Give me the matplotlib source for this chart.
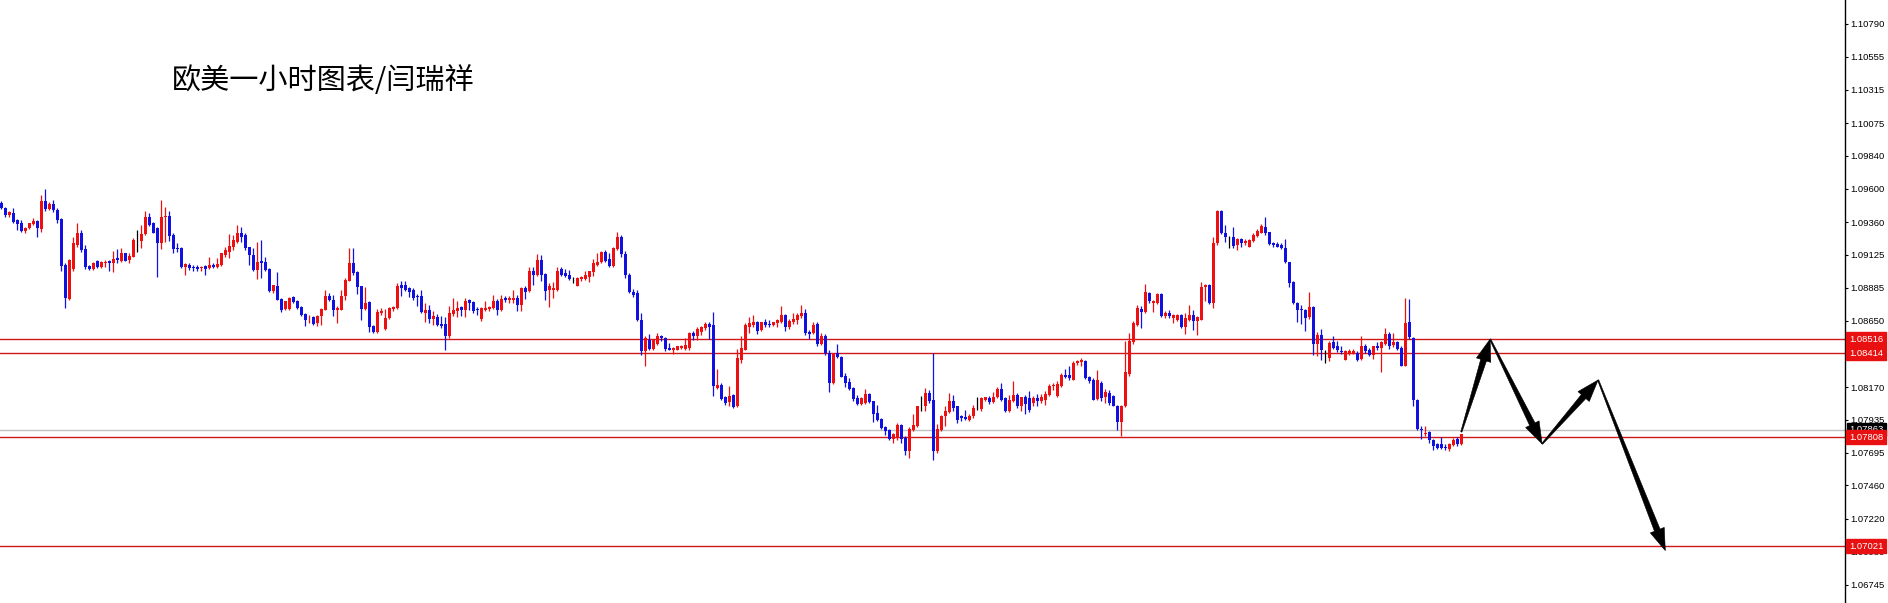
import numpy as np
import matplotlib
matplotlib.use("Agg")
import matplotlib.pyplot as plt
from matplotlib.patches import Polygon
import matplotlib.transforms as mtransforms

plt.rcParams['font.family'] = ['Noto Sans CJK SC', 'DejaVu Sans']

# EURUSD H1 candles
opens = [
    1.09496,1.09460,1.09414,1.09424,1.09376,1.09357,1.09299,1.09316,1.09347,1.09371,
    1.09311,1.09515,1.09453,1.09491,1.09448,1.09381,1.09052,1.08805,1.09021,1.09196,
    1.09285,1.09167,1.09045,1.09021,1.09081,1.09035,1.09064,1.09078,1.09064,1.09098,
    1.09083,1.09136,1.09088,1.09112,1.09232,1.09227,1.09275,1.09395,1.09352,1.09316,
    1.09213,1.09395,1.09405,1.09268,1.09172,1.09172,1.09035,1.09054,1.09035,1.09040,
    1.09026,1.09045,1.09028,1.09052,1.09035,1.09052,1.09124,1.09148,1.09184,1.09220,
    1.09280,1.09268,1.09179,1.09124,1.09016,1.09081,1.09069,1.09023,1.08860,1.08901,
    1.08805,1.08733,1.08733,1.08819,1.08793,1.08747,1.08699,1.08651,1.08675,1.08632,
    1.08685,1.08728,1.08829,1.08800,1.08728,1.08728,1.08824,1.08939,1.09064,1.08997,
    1.08896,1.08733,1.08781,1.08608,1.08565,1.08704,1.08589,1.08668,1.08735,1.08740,
    1.08908,1.08908,1.08884,1.08872,1.08829,1.08829,1.08704,1.08728,1.08663,1.08675,
    1.08627,1.08627,1.08541,1.08699,1.08716,1.08747,1.08723,1.08795,1.08781,1.08733,
    1.08661,1.08728,1.08733,1.08740,1.08793,1.08723,1.08810,1.08795,1.08800,1.08810,
    1.08764,1.08884,1.08860,1.09011,1.08980,1.09088,1.08985,1.08867,1.08867,1.08867,
    1.09021,1.08992,1.08980,1.08954,1.08901,1.08949,1.08949,1.08963,1.08997,1.09052,
    1.09069,1.09148,1.09093,1.09045,1.09165,1.09256,1.09130,1.08980,1.08859,1.08847,
    1.08655,1.08427,1.08511,1.08444,1.08482,1.08535,1.08523,1.08451,1.08434,1.08439,
    1.08451,1.08444,1.08451,1.08559,1.08535,1.08571,1.08595,1.08626,1.08619,1.08163,
    1.08187,1.08098,1.08060,1.08115,1.08031,1.08367,1.08439,1.08607,1.08619,1.08643,
    1.08583,1.08638,1.08626,1.08619,1.08631,1.08643,1.08691,1.08602,1.08636,1.08655,
    1.08684,1.08708,1.08564,1.08559,1.08626,1.08482,1.08535,1.08414,1.08198,1.08414,
    1.08390,1.08251,1.08210,1.08162,1.08090,1.08049,1.08054,1.08121,1.08066,1.07982,
    1.07939,1.07881,1.07857,1.07795,1.07802,1.07898,1.07802,1.07706,1.07857,1.07891,
    1.08030,1.08030,1.08126,1.08078,1.07706,1.07862,1.07958,1.07987,1.08073,1.08030,
    1.07958,1.07953,1.07934,1.07958,1.08018,1.08011,1.08078,1.08090,1.08059,1.08097,
    1.08155,1.08090,1.07994,1.08066,1.08114,1.08035,1.08097,1.08092,1.08056,1.08092,
    1.08068,1.08080,1.08116,1.08176,1.08104,1.08176,1.08260,1.08260,1.08224,1.08344,
    1.08349,1.08356,1.08243,1.08224,1.08085,1.08200,1.08099,1.08128,1.08104,1.08037,
    1.07917,1.08032,1.08267,1.08493,1.08620,1.08733,1.08709,1.08848,1.08776,1.08776,
    1.08843,1.08680,1.08704,1.08668,1.08656,1.08692,1.08603,1.08656,1.08692,1.08644,
    1.08656,1.08891,1.08908,1.08776,1.09208,1.09443,1.09285,1.09251,1.09256,1.09196,
    1.09237,1.09208,1.09184,1.09227,1.09261,1.09285,1.09328,1.09287,1.09213,1.09203,
    1.09196,1.09172,1.09069,1.08925,1.08776,1.08733,1.08728,1.08675,1.08747,1.08483,
    1.08548,1.08392,1.08380,1.08493,1.08464,1.08428,1.08368,1.08411,1.08416,1.08416,
    1.08373,1.08464,1.08440,1.08404,1.08464,1.08452,1.08483,1.08555,1.08476,1.08493,
    1.08452,1.08325,1.08637,1.08524,1.08080,1.07869,1.07835,1.07845,1.07787,1.07756,
    1.07756,1.07739,1.07720,1.07749,1.07792,1.07756,
]
highs = [
    1.09515,1.09467,1.09443,1.09460,1.09381,1.09376,1.09328,1.09357,1.09388,1.09376,
    1.09556,1.09597,1.09508,1.09520,1.09460,1.09388,1.09064,1.09093,1.09251,1.09352,
    1.09304,1.09196,1.09052,1.09069,1.09088,1.09078,1.09088,1.09088,1.09150,1.09165,
    1.09172,1.09141,1.09136,1.09244,1.09304,1.09340,1.09443,1.09424,1.09364,1.09328,
    1.09520,1.09472,1.09443,1.09280,1.09208,1.09184,1.09064,1.09064,1.09052,1.09052,
    1.09045,1.09052,1.09112,1.09064,1.09100,1.09141,1.09184,1.09275,1.09268,1.09340,
    1.09328,1.09280,1.09184,1.09172,1.09220,1.09232,1.09107,1.09028,1.08908,1.08997,
    1.08812,1.08793,1.08819,1.08829,1.08800,1.08752,1.08704,1.08692,1.08680,1.08690,
    1.08740,1.08872,1.08848,1.08836,1.08752,1.08872,1.08956,1.09172,1.09172,1.09004,
    1.08901,1.08891,1.08788,1.08620,1.08733,1.08740,1.08735,1.08747,1.08752,1.08920,
    1.08932,1.08937,1.08891,1.08884,1.08843,1.08872,1.08776,1.08764,1.08716,1.08699,
    1.08680,1.08675,1.08757,1.08812,1.08788,1.08757,1.08812,1.08805,1.08788,1.08747,
    1.08747,1.08788,1.08757,1.08836,1.08805,1.08836,1.08829,1.08824,1.08872,1.08836,
    1.08891,1.08901,1.09040,1.09040,1.09131,1.09124,1.08992,1.08920,1.08925,1.09040,
    1.09033,1.09021,1.09016,1.08963,1.08963,1.08973,1.09004,1.09011,1.09093,1.09136,
    1.09155,1.09160,1.09136,1.09184,1.09292,1.09270,1.09150,1.08990,1.08880,1.08871,
    1.08703,1.08535,1.08554,1.08516,1.08559,1.08547,1.08528,1.08487,1.08458,1.08468,
    1.08475,1.08523,1.08564,1.08578,1.08607,1.08612,1.08636,1.08643,1.08715,1.08300,
    1.08199,1.08108,1.08175,1.08122,1.08444,1.08535,1.08631,1.08679,1.08691,1.08648,
    1.08643,1.08660,1.08655,1.08643,1.08660,1.08756,1.08698,1.08660,1.08708,1.08703,
    1.08763,1.08732,1.08583,1.08636,1.08636,1.08559,1.08550,1.08438,1.08419,1.08481,
    1.08395,1.08270,1.08234,1.08174,1.08114,1.08102,1.08155,1.08126,1.08073,1.08042,
    1.07946,1.07891,1.07867,1.07838,1.07910,1.07905,1.07814,1.07881,1.07977,1.08035,
    1.08107,1.08162,1.08150,1.08414,1.07905,1.07970,1.08030,1.08126,1.08114,1.08035,
    1.07970,1.08006,1.07977,1.08042,1.08097,1.08097,1.08102,1.08107,1.08138,1.08174,
    1.08203,1.08102,1.08114,1.08217,1.08126,1.08102,1.08114,1.08140,1.08109,1.08123,
    1.08123,1.08140,1.08195,1.08200,1.08212,1.08272,1.08301,1.08320,1.08356,1.08363,
    1.08380,1.08363,1.08253,1.08236,1.08296,1.08212,1.08157,1.08152,1.08116,1.08044,
    1.08044,1.08500,1.08560,1.08644,1.08764,1.08752,1.08915,1.08853,1.08800,1.08848,
    1.08848,1.08716,1.08723,1.08699,1.08699,1.08699,1.08704,1.08764,1.08728,1.08685,
    1.08925,1.08913,1.08915,1.09251,1.09448,1.09448,1.09340,1.09261,1.09328,1.09244,
    1.09244,1.09237,1.09237,1.09280,1.09309,1.09347,1.09395,1.09292,1.09220,1.09220,
    1.09213,1.09237,1.09076,1.08932,1.08781,1.08764,1.08733,1.08853,1.08752,1.08565,
    1.08589,1.08435,1.08500,1.08541,1.08500,1.08464,1.08440,1.08445,1.08445,1.08428,
    1.08541,1.08483,1.08452,1.08469,1.08493,1.08500,1.08596,1.08565,1.08560,1.08500,
    1.08464,1.08812,1.08805,1.08531,1.08085,1.07888,1.07888,1.07852,1.07797,1.07768,
    1.07811,1.07756,1.07763,1.07804,1.07811,1.07828,
]
lows = [
    1.09453,1.09395,1.09400,1.09357,1.09304,1.09292,1.09285,1.09309,1.09340,1.09256,
    1.09287,1.09443,1.09448,1.09436,1.09357,1.09011,1.08740,1.08795,1.09011,1.09184,
    1.09148,1.09021,1.09016,1.09016,1.09028,1.09030,1.09035,1.09004,1.09002,1.09064,
    1.09069,1.09078,1.09064,1.09107,1.09148,1.09172,1.09268,1.09333,1.09280,1.08963,
    1.09165,1.09220,1.09227,1.09141,1.09148,1.09028,1.08980,1.09016,1.09011,1.09011,
    1.09011,1.08980,1.09021,1.09028,1.09028,1.09047,1.09112,1.09100,1.09160,1.09213,
    1.09220,1.09160,1.09052,1.09011,1.08951,1.08956,1.09004,1.08853,1.08848,1.08795,
    1.08709,1.08728,1.08723,1.08776,1.08733,1.08680,1.08608,1.08632,1.08620,1.08613,
    1.08620,1.08723,1.08788,1.08685,1.08632,1.08723,1.08800,1.08932,1.08980,1.08843,
    1.08656,1.08728,1.08565,1.08560,1.08560,1.08692,1.08584,1.08661,1.08721,1.08733,
    1.08824,1.08860,1.08819,1.08800,1.08752,1.08704,1.08637,1.08632,1.08620,1.08613,
    1.08596,1.08440,1.08524,1.08680,1.08675,1.08680,1.08675,1.08728,1.08704,1.08692,
    1.08644,1.08716,1.08716,1.08733,1.08692,1.08716,1.08781,1.08776,1.08776,1.08716,
    1.08716,1.08805,1.08853,1.08908,1.08973,1.08932,1.08800,1.08747,1.08812,1.08860,
    1.08973,1.08963,1.08944,1.08920,1.08896,1.08939,1.08944,1.08925,1.08973,1.09045,
    1.09064,1.09076,1.09040,1.09040,1.09160,1.09110,1.08960,1.08850,1.08820,1.08650,
    1.08403,1.08319,1.08439,1.08439,1.08475,1.08499,1.08427,1.08434,1.08410,1.08434,
    1.08444,1.08439,1.08434,1.08511,1.08511,1.08547,1.08583,1.08516,1.08108,1.08156,
    1.08079,1.08043,1.08036,1.08019,1.08026,1.08343,1.08434,1.08559,1.08607,1.08554,
    1.08578,1.08607,1.08607,1.08612,1.08602,1.08631,1.08578,1.08588,1.08626,1.08626,
    1.08667,1.08547,1.08516,1.08554,1.08468,1.08475,1.08405,1.08131,1.08193,1.08378,
    1.08241,1.08174,1.08150,1.08073,1.08042,1.08042,1.08049,1.08054,1.07915,1.07922,
    1.07867,1.07826,1.07790,1.07766,1.07790,1.07766,1.07682,1.07658,1.07850,1.07881,
    1.07994,1.07994,1.08054,1.07646,1.07694,1.07850,1.07886,1.07982,1.07994,1.07910,
    1.07922,1.07934,1.07922,1.07946,1.08006,1.08001,1.08066,1.08049,1.08054,1.08090,
    1.08066,1.07987,1.07987,1.08059,1.08018,1.07994,1.07977,1.07989,1.08037,1.08037,
    1.08056,1.08044,1.08109,1.08152,1.08099,1.08171,1.08236,1.08224,1.08219,1.08332,
    1.08325,1.08229,1.08200,1.08075,1.08075,1.08068,1.08056,1.08044,1.08032,1.07859,
    1.07816,1.08027,1.08253,1.08483,1.08613,1.08596,1.08704,1.08776,1.08709,1.08771,
    1.08675,1.08668,1.08668,1.08632,1.08644,1.08596,1.08555,1.08644,1.08579,1.08548,
    1.08651,1.08788,1.08771,1.08740,1.09196,1.09275,1.09220,1.09172,1.09172,1.09160,
    1.09184,1.09196,1.09179,1.09220,1.09251,1.09280,1.09268,1.09196,1.09184,1.09179,
    1.09165,1.09064,1.08891,1.08771,1.08637,1.08627,1.08572,1.08661,1.08404,1.08397,
    1.08368,1.08344,1.08356,1.08445,1.08421,1.08411,1.08363,1.08404,1.08411,1.08356,
    1.08368,1.08416,1.08392,1.08373,1.08440,1.08277,1.08476,1.08445,1.08459,1.08435,
    1.08320,1.08320,1.08517,1.08032,1.07859,1.07797,1.07816,1.07768,1.07715,1.07720,
    1.07725,1.07715,1.07708,1.07744,1.07744,1.07749,
]
closes = [
    1.09460,1.09412,1.09431,1.09364,1.09347,1.09299,1.09321,1.09352,1.09366,1.09316,
    1.09515,1.09453,1.09491,1.09448,1.09376,1.09045,1.08812,1.09088,1.09208,1.09280,
    1.09160,1.09040,1.09021,1.09064,1.09035,1.09074,1.09074,1.09064,1.09093,1.09088,
    1.09141,1.09083,1.09117,1.09232,1.09232,1.09275,1.09400,1.09340,1.09285,1.09213,
    1.09400,1.09405,1.09261,1.09167,1.09165,1.09035,1.09057,1.09028,1.09026,1.09021,
    1.09035,1.09021,1.09052,1.09040,1.09059,1.09136,1.09160,1.09189,1.09232,1.09280,
    1.09256,1.09172,1.09124,1.09016,1.09076,1.09064,1.09016,1.08860,1.08903,1.08800,
    1.08728,1.08788,1.08812,1.08781,1.08740,1.08692,1.08651,1.08656,1.08627,1.08685,
    1.08733,1.08829,1.08795,1.08723,1.08738,1.08829,1.08944,1.09064,1.08992,1.08891,
    1.08733,1.08776,1.08601,1.08565,1.08711,1.08716,1.08668,1.08740,1.08745,1.08896,
    1.08884,1.08872,1.08853,1.08812,1.08819,1.08709,1.08728,1.08661,1.08685,1.08620,
    1.08613,1.08541,1.08704,1.08723,1.08740,1.08723,1.08793,1.08776,1.08716,1.08723,
    1.08738,1.08740,1.08747,1.08793,1.08723,1.08805,1.08795,1.08810,1.08810,1.08764,
    1.08884,1.08853,1.09011,1.08980,1.09088,1.08980,1.08860,1.08896,1.08884,1.09011,
    1.08980,1.08973,1.08949,1.08954,1.08956,1.08963,1.08980,1.09004,1.09064,1.09076,
    1.09148,1.09083,1.09045,1.09172,1.09256,1.09130,1.08980,1.08859,1.08835,1.08655,
    1.08427,1.08523,1.08444,1.08511,1.08535,1.08523,1.08444,1.08439,1.08449,1.08463,
    1.08468,1.08475,1.08559,1.08535,1.08588,1.08607,1.08626,1.08607,1.08175,1.08187,
    1.08084,1.08055,1.08108,1.08026,1.08379,1.08451,1.08619,1.08631,1.08643,1.08578,
    1.08636,1.08619,1.08617,1.08638,1.08655,1.08691,1.08602,1.08650,1.08660,1.08691,
    1.08708,1.08559,1.08554,1.08619,1.08482,1.08540,1.08414,1.08203,1.08414,1.08385,
    1.08246,1.08203,1.08155,1.08083,1.08049,1.08090,1.08121,1.08059,1.07977,1.07934,
    1.07874,1.07850,1.07795,1.07831,1.07898,1.07795,1.07706,1.07867,1.07898,1.08030,
    1.08030,1.08126,1.08066,1.07706,1.07867,1.07963,1.07994,1.08066,1.08018,1.07934,
    1.07946,1.07939,1.07963,1.08018,1.08018,1.08090,1.08097,1.08059,1.08102,1.08155,
    1.08078,1.07994,1.08078,1.08114,1.08030,1.08097,1.08049,1.08008,1.08092,1.08068,
    1.08099,1.08123,1.08181,1.08188,1.08195,1.08260,1.08243,1.08236,1.08344,1.08356,
    1.08363,1.08236,1.08212,1.08080,1.08224,1.08092,1.08133,1.08056,1.08037,1.07917,
    1.08037,1.08277,1.08500,1.08632,1.08740,1.08709,1.08853,1.08788,1.08788,1.08843,
    1.08680,1.08704,1.08680,1.08692,1.08692,1.08603,1.08668,1.08692,1.08644,1.08675,
    1.08891,1.08908,1.08776,1.09213,1.09443,1.09285,1.09251,1.09251,1.09189,1.09237,
    1.09213,1.09227,1.09232,1.09268,1.09299,1.09333,1.09280,1.09203,1.09196,1.09184,
    1.09172,1.09069,1.08920,1.08776,1.08728,1.08723,1.08668,1.08747,1.08483,1.08548,
    1.08440,1.08392,1.08488,1.08452,1.08435,1.08421,1.08428,1.08428,1.08428,1.08368,
    1.08464,1.08428,1.08404,1.08464,1.08452,1.08493,1.08555,1.08464,1.08493,1.08445,
    1.08325,1.08632,1.08531,1.08080,1.07864,1.07859,1.07840,1.07787,1.07744,1.07732,
    1.07732,1.07732,1.07756,1.07787,1.07756,1.07830,
]

# horizontal levels
red_levels = [1.08516, 1.08414, 1.07808, 1.07021]
bid_price = 1.07863
axis_ticks = [1.10790, 1.10555, 1.10315, 1.10075, 1.09840, 1.09600, 1.09360,
              1.09125, 1.08885, 1.08650, 1.08410, 1.08170, 1.07935, 1.07695,
              1.07460, 1.07220, 1.06980, 1.06745]

# projected path (bar index, price)
path_x = [365, 372.2, 385.2, 399.2, 416.0]
path_y = [1.07846, 1.08516, 1.07760, 1.08221, 1.06990]

title = "欧美一小时图表/闫瑞祥"

W, H = 1888, 603
fig = plt.figure(figsize=(W / 100, H / 100), dpi=100)
ax = fig.add_axes([0, 0, 1845 / W, 1])
ax.set_xlim(-0.33, 460.92)
ax.set_ylim(1.06612, 1.10963)

o = np.array(opens); h = np.array(highs); l = np.array(lows); c = np.array(closes)
x = np.arange(len(o))
col = np.where(c > o, '#ee1010', np.where(c < o, '#1010e0', 'black'))

ax.vlines(x, l, h, colors=col, linewidth=0.9, zorder=3)
bot = np.minimum(o, c)
hgt = np.maximum(np.abs(c - o), 0.00002)
ax.bar(x, hgt, bottom=bot, width=0.72, color=col, linewidth=0, zorder=3)

for lv in red_levels:
    ax.axhline(lv, color='#d01818', lw=1.0, zorder=2)
ax.axhline(bid_price, color='#c0c0c0', lw=1.0, zorder=1)

# axis on the right, MT4 style
for s in ['top', 'left', 'bottom']:
    ax.spines[s].set_visible(False)
ax.spines['right'].set_linewidth(1.0)
ax.set_xticks([])
ax.yaxis.tick_right()
ax.set_yticks(axis_ticks)
ax.set_yticklabels(["%.5f" % t for t in axis_ticks], family='Liberation Sans', fontsize=6.8)
ax.tick_params(axis='y', direction='out', length=2.5, width=0.8, pad=1.5)

trans = mtransforms.blended_transform_factory(ax.transAxes, ax.transData)
lab_x = 1 + 4 / 1845
ax.text(lab_x, bid_price, "%.5f" % bid_price, transform=trans, ha='left', va='center',
        color='white', family='Liberation Sans', fontsize=6.8, clip_on=False, zorder=6,
        bbox=dict(boxstyle='square,pad=0.25', fc='black', ec='black'))
for lv in red_levels:
    ax.text(lab_x, lv, "%.5f" % lv, transform=trans, ha='left', va='center',
            color='white', family='Liberation Sans', fontsize=6.8, clip_on=False, zorder=7,
            bbox=dict(boxstyle='square,pad=0.28', fc='#e81010', ec='#e81010'))

fig.text(172 / W, 1 - 81 / H, title, fontsize=21, ha='left', va='center', color='black')


def draw_arrow(x0, y0, x1, y1, tail_w=1.2, neck_w=6.0, head_w=15.0, head_len=22.0):
    t = ax.transData
    p0 = t.transform((x0, y0))
    p1 = t.transform((x1, y1))
    d = p1 - p0
    u = d / np.hypot(*d)
    n = np.array([-u[1], u[0]])
    base = p1 - u * head_len
    pts = [p0 + n * tail_w / 2, base + n * neck_w / 2, base + n * head_w / 2, p1,
           base - n * head_w / 2, base - n * neck_w / 2, p0 - n * tail_w / 2]
    ax.add_patch(Polygon(t.inverted().transform(pts), closed=True, fc='black',
                         ec='black', lw=0.4, zorder=8, clip_on=False))


for i in range(len(path_x) - 1):
    draw_arrow(path_x[i], path_y[i], path_x[i + 1], path_y[i + 1])

fig.savefig("out.png", dpi=100, facecolor='white')
